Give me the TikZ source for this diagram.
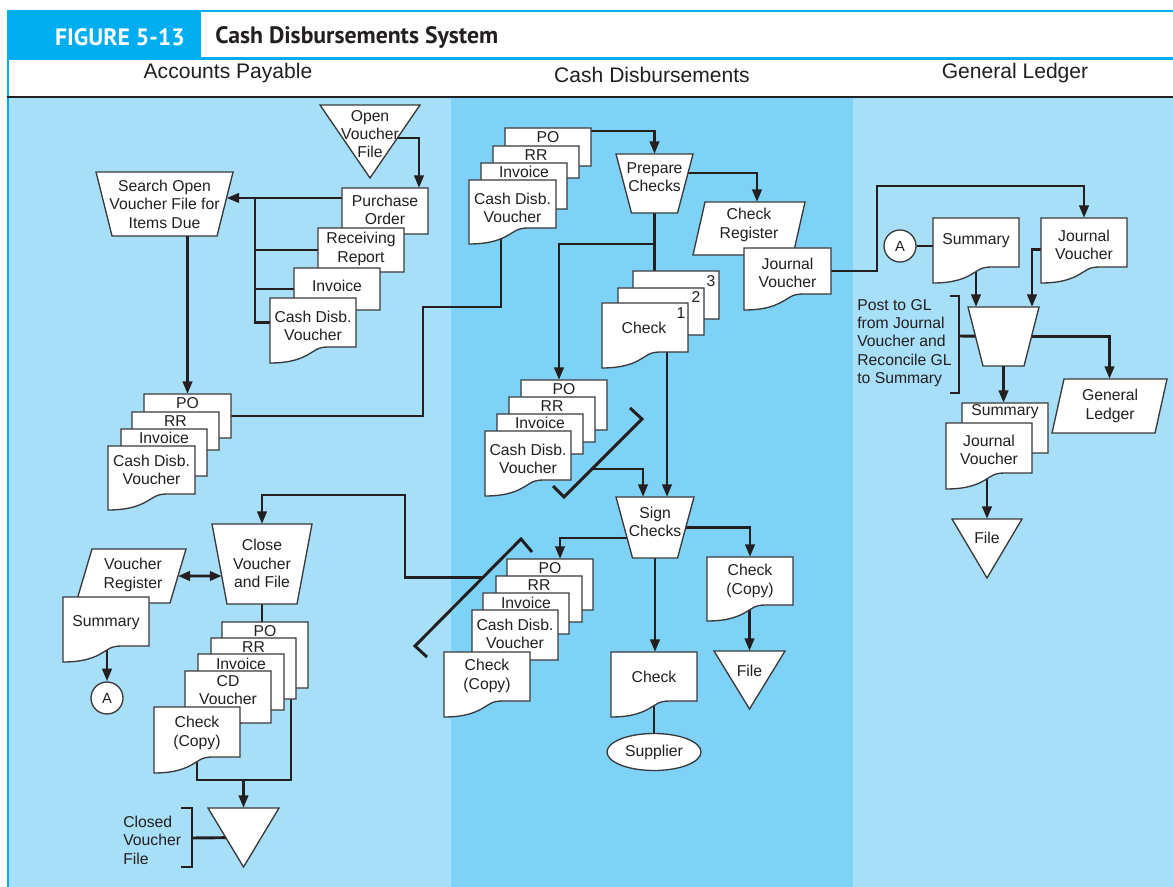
\documentclass[tikz,border=0pt]{standalone}
\usepackage{fontspec}
\setmainfont{Liberation Sans}
\newfontfamily\titlefont{PT Sans}
\usetikzlibrary{arrows.meta,calc,shapes.geometric}
\definecolor{ink}{HTML}{231F20}
\definecolor{edge}{HTML}{3A3A3C}
\definecolor{lanelight}{HTML}{A8DFF8}
\definecolor{lanemid}{HTML}{7ED2F5}
\definecolor{hdrblue}{HTML}{00AEEF}
\pgfdeclarelayer{lanes}
\pgfdeclarelayer{lines}
\pgfdeclarelayer{shapes}
\pgfsetlayers{lanes,lines,shapes,main}

\tikzset{
  outline/.style={fill=white, draw=edge, line width=1pt, line join=miter},
  frame/.style={inner sep=0pt, outer sep=0pt, minimum size=0pt},
  txt/.style={font=\fontsize{11.8}{13.8}\selectfont, align=center, inner sep=0pt, text=ink},
  head/.style={font=\fontsize{15.8}{18}\selectfont, inner sep=0pt, text=ink},
  ttl/.style={font=\titlefont\bfseries\fontsize{17.8}{20}\selectfont, inner sep=0pt},
  flow/.style={draw=ink, line width=2.2pt},
  arr/.style={flow, -{Triangle[length=9.5pt,width=7pt]}},
  dbl/.style={flow, {Triangle[length=9pt,width=7pt]}-{Triangle[length=9pt,width=7pt]}},
  brk/.style={draw=ink, line width=2.2pt},
  circ/.style={circle, draw=edge, fill=white, line width=1pt, minimum size=24pt,
    inner sep=0pt, font=\fontsize{11}{13}\selectfont, text=ink},
  ell/.style={ellipse, draw=edge, fill=white, line width=1pt, minimum width=70.5pt,
    minimum height=27.75pt, inner sep=0pt, font=\fontsize{11.8}{13.8}\selectfont, text=ink}
}

% document symbol: name, left, top, width, height to the flat bottom edge
\newcommand\flowdoc[5]{%
  \begin{pgfonlayer}{shapes}
    \filldraw[outline] (#2,#3) -- (#2+#4,#3) -- (#2+#4,#3+#5) -- (#2+0.68*#4,#3+#5)
      .. controls (#2+0.55*#4,#3+#5) and (#2+0.52*#4,#3+#5+4) .. (#2+0.45*#4,#3+#5+7.2)
      .. controls (#2+0.37*#4,#3+#5+11.2) and (#2+0.25*#4,#3+#5+16) .. (#2,#3+#5+16) -- cycle;
  \end{pgfonlayer}
  \node[frame, anchor=north west, minimum width=#4*0.75pt, minimum height=#5*0.75pt] (#1) at (#2,#3) {};
}
% manual operation: name, centre x, top, top width, bottom width, height
\newcommand\manop[6]{%
  \begin{pgfonlayer}{shapes}
    \filldraw[outline] (#2-#4/2,#3) coordinate (#1-tl) -- (#2+#4/2,#3) coordinate (#1-tr)
      -- (#2+#5/2,#3+#6) coordinate (#1-br) -- (#2-#5/2,#3+#6) coordinate (#1-bl) -- cycle;
  \end{pgfonlayer}
  \node[frame, minimum width=#4*0.75pt, minimum height=#6*0.75pt] (#1) at (#2,#3+#6/2) {};
}
% off-line file: name, centre x, top, width, height
\newcommand\filetri[5]{%
  \begin{pgfonlayer}{shapes}
    \filldraw[outline] (#2-#4/2,#3) -- (#2+#4/2,#3) -- (#2,#3+#5) -- cycle;
  \end{pgfonlayer}
  \node[frame, minimum width=#4*0.75pt, minimum height=#5*0.75pt] (#1) at (#2,#3+#5/2) {};
}
% register (parallelogram): name, top-left x, top, width, height, slant
\newcommand\register[6]{%
  \begin{pgfonlayer}{shapes}
    \filldraw[outline] (#2,#3) coordinate (#1-tl) -- (#2+#4,#3) coordinate (#1-tr)
      -- (#2+#4-#6,#3+#5) coordinate (#1-br) -- (#2-#6,#3+#5) coordinate (#1-bl) -- cycle;
  \end{pgfonlayer}
  \node[frame, minimum width=(#4+#6)*0.75pt, minimum height=#5*0.75pt] (#1) at (#2+#4/2-#6/2,#3+#5/2) {};
}

\begin{document}
\begin{tikzpicture}[x=0.75pt,y=-0.75pt]
\path[use as bounding box] (0,0) rectangle (1173,887);

% ---------- frame, title bar and swimlanes ----------
\begin{pgfonlayer}{lanes}
  \fill[white] (0,0) rectangle (1173,887);
  \fill[lanelight] (9,98) rectangle (451,887);
  \fill[lanemid] (451,98) rectangle (853,887);
  \fill[lanelight] (853,98) rectangle (1173,887);
  \fill[hdrblue] (7,10) rectangle (201,59);
  \draw[hdrblue, line width=1.6pt] (7,11) -- (1173,11);
  \draw[hdrblue, line width=1.6pt] (7,58.5) -- (1173,58.5);
  \draw[hdrblue, line width=1.6pt] (8,10) -- (8,887);
  \draw[ink, line width=2pt] (7,97) -- (1173,97);
\end{pgfonlayer}

\node[ttl, text=white] (fig) at (120,37) {FIGURE 5-13};
\node[ttl, text=ink, anchor=west] (title) at (215,37) {Cash Disbursements System};
\node[head] (hAP) at (228,73) {Accounts Payable};
\node[head] (hCD) at (652,75) {Cash Disbursements};
\node[head] (hGL) at (1015,73) {General Ledger};

% ---------- Accounts Payable ----------
\filetri{ovf}{370}{105}{100}{73}
\node[txt] (ovf-t) at (370,134) {Open\\Voucher\\File};

\manop{srch}{164.5}{172}{137}{105}{64}
\node[txt] (srch-t) at (164.5,204) {Search Open\\Voucher File for\\Items Due};

\flowdoc{po1}{342}{188}{86}{46}
\node[txt] (po1-t) at (385,210) {Purchase\\Order};
\flowdoc{rr1}{318}{228}{86}{44}
\node[txt] (rr1-t) at (361,249) {Receiving\\Report};
\flowdoc{inv1}{294}{268}{86}{42}
\node[txt] (inv1-t) at (337,286) {Invoice};
\flowdoc{cdv1}{270}{298}{86}{49}
\node[txt] (cdv1-t) at (313,326) {Cash Disb.\\Voucher};

\flowdoc{ap2po}{144}{394}{87}{44}
\node[txt] (ap2po-t) at (187.5,403) {PO};
\flowdoc{ap2rr}{132}{412}{87}{38}
\node[txt] (ap2rr-t) at (175.5,421) {RR};
\flowdoc{ap2inv}{121}{429}{86}{47}
\node[txt] (ap2inv-t) at (164,438) {Invoice};
\flowdoc{ap2cdv}{108}{446}{87}{48}
\node[txt] (ap2cdv-t) at (151.5,470) {Cash Disb.\\Voucher};

\register{vr}{92}{549}{94}{54}{16}
\node[txt] (vr-t) at (133,575) {Voucher\\Register};
\flowdoc{apsum}{63}{597}{86}{49}
\node[txt] (apsum-t) at (106,623) {Summary};
\node[circ] (apA) at (107,698) {A};

\manop{cvf}{262}{524}{100}{70}{80}
\node[txt] (cvf-t) at (262,563.5) {Close\\Voucher\\and File};

\flowdoc{ap3po}{222}{622}{86}{66}
\node[txt] (ap3po-t) at (265,631) {PO};
\flowdoc{ap3rr}{211}{638}{85}{61}
\node[txt] (ap3rr-t) at (253.5,647) {RR};
\flowdoc{ap3inv}{198}{654}{86}{56}
\node[txt] (ap3inv-t) at (241,664) {Invoice};
\flowdoc{ap3cdv}{185}{671}{86}{52}
\node[txt] (ap3cdv-t) at (228,690) {CD\\Voucher};
\flowdoc{ap3chk}{154}{707}{86}{50}
\node[txt] (ap3chk-t) at (197,733) {Check\\(Copy)};

\filetri{cvfile}{243.5}{808}{71}{59}
\node[txt, align=left, anchor=west] (cvfile-t) at (123,840) {Closed\\Voucher\\File};
\draw[brk] (181,808) -- (192,808) -- (192,867) -- (181,867);
\coordinate (brk1m) at (192,838);

% ---------- Cash Disbursements ----------
\flowdoc{cd1po}{505}{128}{86}{38}
\node[txt] (cd1po-t) at (548,137) {PO};
\flowdoc{cd1rr}{493}{146}{86}{32}
\node[txt] (cd1rr-t) at (536,155) {RR};
\flowdoc{cd1inv}{481}{163}{86}{46}
\node[txt] (cd1inv-t) at (524,172) {Invoice};
\flowdoc{cd1cdv}{469}{180}{87}{48}
\node[txt] (cd1cdv-t) at (512.5,208) {Cash Disb.\\Voucher};

\manop{prep}{654.5}{154}{77}{46}{59}
\node[txt] (prep-t) at (654.5,177) {Prepare\\Checks};

\register{ckreg}{705}{202}{100}{53}{12}
\node[txt] (ckreg-t) at (749,225) {Check\\Register};
\flowdoc{cdjv}{744}{248}{87}{46}
\node[txt] (cdjv-t) at (787.5,273) {Journal\\Voucher};

\flowdoc{ck3}{633}{271}{86}{48}
\node[txt] (ck3-n) at (711,281) {3};
\flowdoc{ck2}{618}{288}{86}{47}
\node[txt] (ck2-n) at (696,297) {2};
\flowdoc{ck1}{602}{303}{86}{49}
\node[txt] (ck1-n) at (681,313) {1};
\node[txt] (ck1-t) at (644,328) {Check};

\flowdoc{cd2po}{521}{380}{86}{50}
\node[txt] (cd2po-t) at (564,389) {PO};
\flowdoc{cd2rr}{509}{397}{86}{45}
\node[txt] (cd2rr-t) at (552,406) {RR};
\flowdoc{cd2inv}{497}{414}{86}{40}
\node[txt] (cd2inv-t) at (540,423) {Invoice};
\flowdoc{cd2cdv}{485}{431}{86}{49}
\node[txt] (cd2cdv-t) at (528,459) {Cash Disb.\\Voucher};

\draw[brk] (630,408) -- (642,419) coordinate (br1a) -- (564,497) coordinate (br1b) -- (553,486);
\coordinate (br1m) at ($(br1a)!0.641!(br1b)$);

\manop{sign}{655}{497}{78}{45}{61}
\node[txt] (sign-t) at (655,522) {Sign\\Checks};

\flowdoc{cd3po}{507}{559}{86}{51}
\node[txt] (cd3po-t) at (550,568) {PO};
\flowdoc{cd3rr}{496}{576}{86}{46}
\node[txt] (cd3rr-t) at (539,585) {RR};
\flowdoc{cd3inv}{483}{593}{86}{41}
\node[txt] (cd3inv-t) at (526,603) {Invoice};
\flowdoc{cd3cdv}{472}{610}{86}{50}
\node[txt] (cd3cdv-t) at (515,634) {Cash Disb.\\Voucher};
\flowdoc{cd3chk}{444}{652}{86}{49}
\node[txt] (cd3chk-t) at (487,676) {Check\\(Copy)};

\draw[brk] (532,552) -- (521,539) coordinate (br2a) -- (415,646) coordinate (br2b) -- (427,657);
\coordinate (br2m) at ($(br2a)!0.364!(br2b)$);

\flowdoc{ckcopy}{707}{557}{86}{48}
\node[txt] (ckcopy-t) at (750,581) {Check\\(Copy)};
\filetri{file2}{749.5}{651}{71}{58}
\node[txt] (file2-t) at (749.5,671) {File};

\flowdoc{chk}{611}{652}{86}{49}
\node[txt] (chk-t) at (654,677) {Check};
\node[ell] (sup) at (654,752) {Supplier};

% ---------- General Ledger ----------
\node[circ] (glA) at (900,246) {A};
\flowdoc{glsum}{933}{218}{86}{49}
\node[txt] (glsum-t) at (976,241) {Summary};
\flowdoc{gljv}{1041}{218}{86}{49}
\node[txt] (gljv-t) at (1084,245) {Journal\\Voucher};

\manop{post}{1003.5}{307}{71}{41}{59}
\draw[brk] (950,296) -- (959,296) -- (959,393) -- (950,393);
\coordinate (br3m) at (959,336);
\node[txt, align=left, anchor=west] (post-t) at (857,343) {Post to GL\\from Journal\\Voucher and\\Reconcile GL\\to Summary};

\register{gl}{1064}{379}{103}{54}{12}
\node[txt] (gl-t) at (1110,406) {General\\Ledger};

\flowdoc{glsum2}{962}{403}{86}{50}
\node[txt] (glsum2-t) at (1005,412) {Summary};
\flowdoc{gljv2}{946}{423}{86}{50}
\node[txt] (gljv2-t) at (989,450) {Journal\\Voucher};
\filetri{glfile}{987}{519}{70}{59}
\node[txt] (glfile-t) at (987,538) {File};

% ---------- connectors ----------
\coordinate (srch-r) at ($(srch-tr)!0.406!(srch-br)$);
\coordinate (vr-r) at ($(vr-tr)!0.5!(vr-br)$);
\coordinate (cvf-l) at ($(cvf-tl)!0.65!(cvf-bl)$);
\coordinate (ck1o) at ($(ck1.south)+(22,0)$);

\begin{pgfonlayer}{lines}
  % accounts payable
  \draw[arr] ($(ovf.center)+(0,-3.5)$) -| ($(po1.north east)+(-9,0)$);
  \draw[arr] (srch-r -| po1.west) -- (srch-r);
  \draw[flow] (srch-r -| 255,0) |- (cdv1.west);
  \draw[flow] (255,0 |- rr1.west) -- (rr1.west);
  \draw[flow] (255,0 |- inv1.west) -- (inv1.west);
  \draw[arr] (srch.south -| ap2po.north) -- (ap2po.north);
  \draw[flow] (ap2po.east) -| (423,307) -| ($(cd1cdv.south)+(-11.5,0)$);
  \draw[arr] (br2m) -| (405,495) -| (cvf.north);
  \draw[dbl] (vr-r) -- (cvf-l);
  \draw[arr] (apsum.south -| apA.north) -- (apA.north);
  \draw[flow] (cvf.south) -- (cvf.south |- ap3po.north);
  \draw[flow] (ap3chk.south) |- (291,780) -- ($(ap3rr.south east)+(-5,0)$);
  \draw[arr] (cvfile.north |- 0,780) -- (cvfile.north);
  \draw[flow] (brk1m) -- (cvfile.center);
  % cash disbursements
  \draw[arr] ($(cd1po.north east)+(0,3)$) -| (prep.north);
  \draw[arr] ($(prep.center)+(0,-10.5)$) -| ($(ckreg.north)+(8,0)$);
  \draw[flow] (prep.south) -- (prep.south |- ck3.north);
  \draw[arr] ($(prep.south)+(0,31)$) -| ($(cd2po.north)+(-5,0)$);
  \draw[arr] (ck1o) -- (ck1o |- sign.north);
  \draw[arr] (br1m) -| ($(sign.north)+(-12,0)$);
  \draw[arr] ($(sign.center)+(0,10.5)$) -| ($(cd3po.north)+(10,0)$);
  \draw[arr] (sign.center) -| (ckcopy.north);
  \draw[arr] (sign.south) -- (sign.south |- chk.north);
  \draw[arr] (ckcopy.south -| file2.north) -- (file2.north);
  \draw[flow] (chk.south) -- (sup.north);
  \draw[arr] (cdjv.east) -| (877,186) -| (gljv.north);
  % general ledger
  \draw[flow] (glA.east) -- (glA.east -| glsum.west);
  \draw[arr] (glsum.south) -- (glsum.south |- post.north);
  \draw[arr] ($(gljv.west)+(0,7)$) -| ($(post.north)+(28.5,0)$);
  \draw[arr] (post.center) -| (gl.north);
  \draw[flow] (br3m) -- (post.center);
  \draw[arr] (post.south) -- (post.south |- glsum2.north);
  \draw[arr] (gljv2.south -| glfile.north) -- (glfile.north);
\end{pgfonlayer}
\end{tikzpicture}
\end{document}
